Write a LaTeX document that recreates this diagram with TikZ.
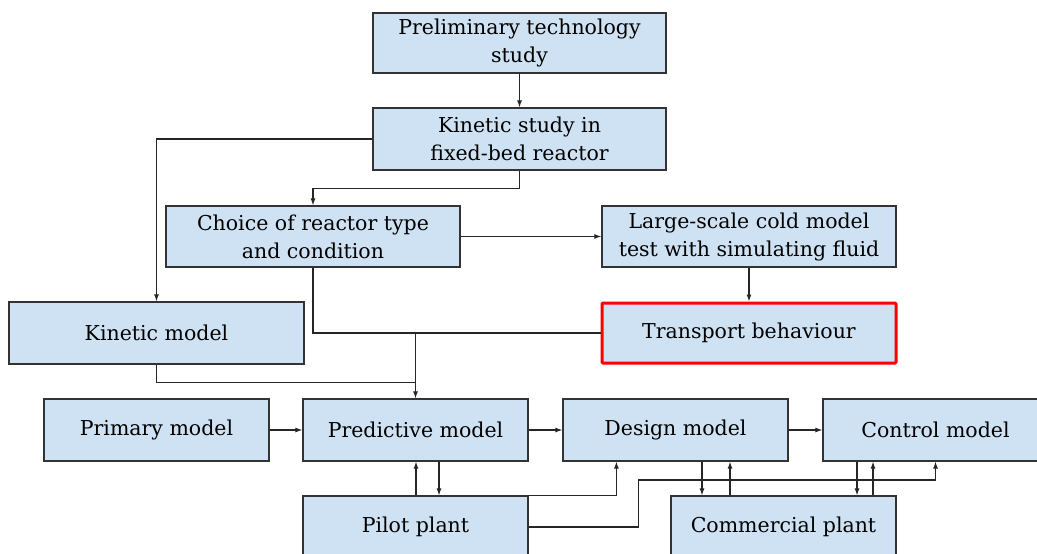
\documentclass[tikz,border=0pt]{standalone}
\usepackage{fontspec}
\setmainfont{DejaVu Serif}
\usetikzlibrary{arrows.meta,calc}
\definecolor{boxfill}{HTML}{CFE2F3}
\definecolor{boxline}{HTML}{333333}
\begin{document}
\begin{tikzpicture}[x=1pt,y=-1pt,
  box/.style={draw=boxline,fill=boxfill,line width=1.2pt,inner sep=0pt,align=center,
    font=\fontsize{20.5}{28}\selectfont,text=black},
  hl/.style={box,draw=red,line width=3pt,rounded corners=1pt},
  conn/.style={draw=black!85,line width=1.1pt},
  arr/.style={conn,-{Latex[length=7pt,width=5pt]}}]
\useasboundingbox (0,0) rectangle (1037,554);
\clip (0,0) rectangle (1037,554);
\node[box,minimum width=293pt,minimum height=60pt] (pre) at (519.5,43) {Preliminary technology\\study};
\node[box,minimum width=293pt,minimum height=62pt] (kin) at (519.5,139) {Kinetic study in\\fixed-bed reactor};
\node[box,minimum width=294pt,minimum height=61pt] (cho) at (313,236.5) {Choice of reactor type\\and condition};
\node[box,minimum width=294pt,minimum height=61pt] (lar) at (749,236.5) {Large-scale cold model\\test with simulating fluid};
\node[hl,minimum width=294pt,minimum height=60pt] (tra) at (749,333) {Transport behaviour};
\node[box,minimum width=295pt,minimum height=62pt] (kmo) at (156.5,333) {Kinetic model};
\node[box,minimum width=225pt,minimum height=62pt] (pri) at (156.5,430) {Primary model};
\node[box,minimum width=225pt,minimum height=62pt] (prd) at (415.5,430) {Predictive model};
\node[box,minimum width=225pt,minimum height=62pt] (des) at (675.5,430) {Design model};
\node[box,minimum width=225pt,minimum height=62pt] (con) at (935.5,430) {Control model};
\node[box,minimum width=225pt,minimum height=62pt] (pil) at (415.5,527) {Pilot plant};
\node[box,minimum width=225pt,minimum height=62pt] (com) at (783.5,527) {Commercial plant};
% top chain
\draw[arr] (pre.south) -- (kin.north);
\draw[arr] (kin.west) -| (kmo.north);
\coordinate (k1) at ($(kin.south)+(0,18)$);
\draw[arr] (kin.south) -- (k1) -| (cho.north);
\draw[arr] (cho.east) -- (lar.west);
\draw[arr] (lar.south) -- (tra.north);
\draw[conn] (tra.west) -- (cho.south |- tra.west) -- (cho.south);
\coordinate (t1) at (prd.north |- tra.west);
\draw[arr] (t1) -- (prd.north);
\coordinate (k2) at ($(kmo.south)+(0,18)$);
\draw[conn] (kmo.south) -- (k2) -- (k2 -| prd.north);
% model row
\draw[arr] (pri.east) -- (prd.west);
\draw[arr] (prd.east) -- (des.west);
\draw[arr] (des.east) -- (con.west);
% pilot plant
\coordinate (p1) at ($(pil.north)+(0.5,0)$);
\coordinate (p2) at ($(pil.north)+(23.5,0)$);
\draw[arr] (p1) -- (p1 |- prd.south);
\draw[arr] (p2 |- prd.south) -- (p2);
\coordinate (d1) at ($(des.south west)+(54,0)$);
\draw[arr] (pil.north east) -| (d1);
\coordinate (q1) at ($(pil.east)+(110,0)$);
\coordinate (q2) at ($(q1)+(0,-47)$);
\draw[arr] (pil.east) -- (q1) -- (q2) -| (con.south);
% commercial plant
\coordinate (c1) at (702,0);
\coordinate (c2) at (730,0);
\coordinate (c3) at (857,0);
\coordinate (c4) at (873,0);
\draw[arr] (c1 |- des.south) -- (c1 |- com.north);
\draw[arr] (c2 |- com.north) -- (c2 |- des.south);
\draw[arr] (c3 |- con.south) -- (c3 |- com.north);
\draw[arr] (c4 |- com.north) -- (c4 |- con.south);
\end{tikzpicture}
\end{document}
